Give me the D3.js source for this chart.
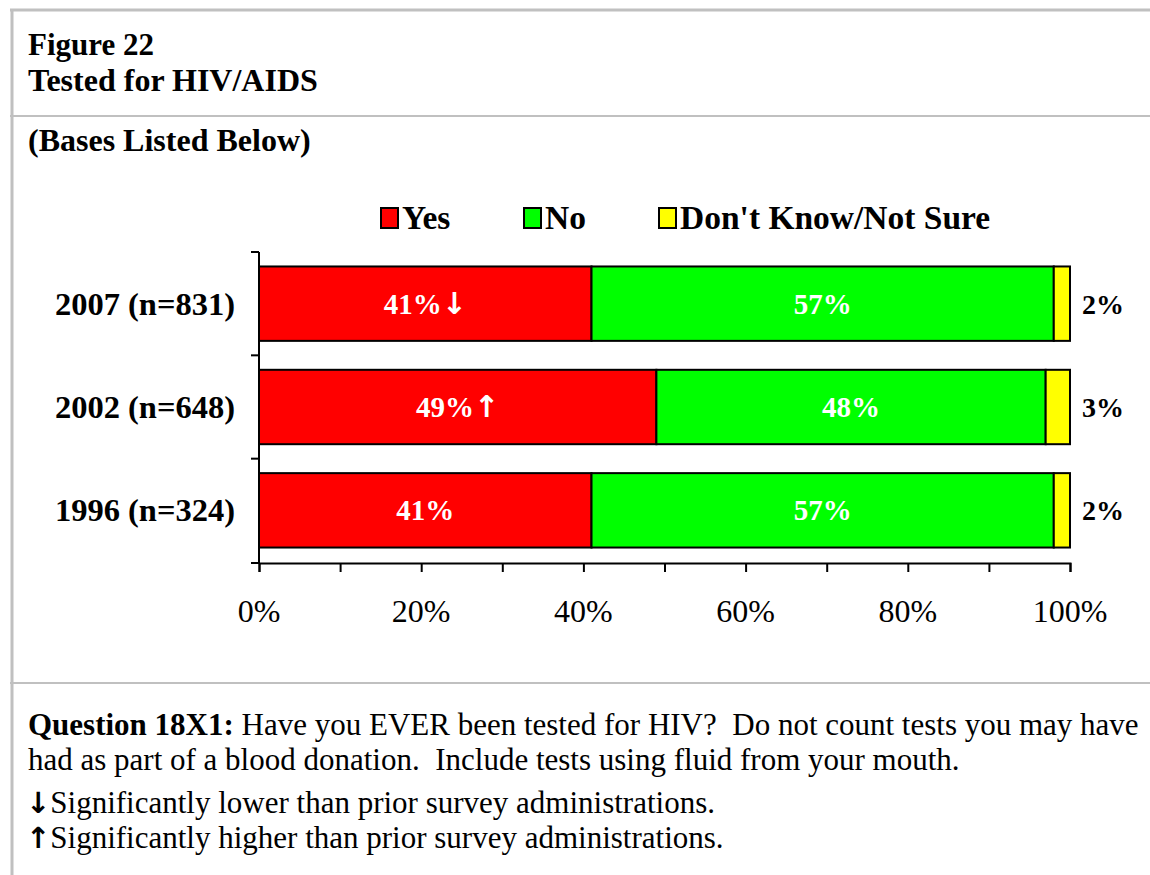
<!DOCTYPE html>
<html>
<head>
<meta charset="utf-8">
<script src="https://cdn.jsdelivr.net/npm/d3@7"></script>
<style>
  body { margin: 0; background: #fff; }
  svg { display: block; font-family: "Liberation Serif", "DejaVu Serif", serif; }
  .arrow { font-family: "DejaVu Sans", sans-serif; font-weight: bold; }
</style>
</head>
<body>
<div id="chart"></div>
<script>
const years = ['2007 (n=831)', '2002 (n=648)', '1996 (n=324)'];
const seriesNames = ['Yes', 'No', "Don't Know/Not Sure"];
const yesVals = [41, 49, 41];
const noVals = [57, 48, 57];
const dkVals = [2, 3, 2];
const yesMarks = ['\u2193', '\u2191', ''];
const xTicks = [0, 20, 40, 60, 80, 100];
const colors = ['#ff0000', '#00ff00', '#ffff00'];

const W = 1150, H = 875;
const svg = d3.select('#chart').append('svg').attr('width', W).attr('height', H);

// frame lines
const frame = '#c0c0c0';
svg.append('line').attr('x1', 10).attr('x2', W).attr('y1', 10).attr('y2', 10).attr('stroke', frame).attr('stroke-width', 3);
svg.append('line').attr('x1', 12).attr('x2', 12).attr('y1', 10).attr('y2', H).attr('stroke', frame).attr('stroke-width', 3);
svg.append('line').attr('x1', 10).attr('x2', W).attr('y1', 116).attr('y2', 116).attr('stroke', frame).attr('stroke-width', 2);
svg.append('line').attr('x1', 10).attr('x2', W).attr('y1', 683).attr('y2', 683).attr('stroke', frame).attr('stroke-width', 2);

// titles
svg.append('text').attr('x', 28).attr('y', 55).attr('font-size', 31).attr('font-weight', 'bold').text('Figure 22');
svg.append('text').attr('x', 28).attr('y', 91).attr('font-size', 32).attr('font-weight', 'bold').text('Tested for HIV/AIDS');
svg.append('text').attr('x', 28).attr('y', 151).attr('font-size', 32).attr('font-weight', 'bold').text('(Bases Listed Below)');

// plot
const x = d3.scaleLinear().domain([0, 100]).range([259, 1070]);
const y = d3.scaleBand().domain(years).range([252, 562]).paddingInner(0.28).paddingOuter(0.14);

const rows = years.map((yr, i) => {
  const vals = [yesVals[i], noVals[i], dkVals[i]];
  let acc = 0;
  return vals.map((v, j) => {
    const seg = {year: yr, series: j, x0: acc, x1: acc + v, v: v, mark: j === 0 ? yesMarks[i] : ''};
    acc += v;
    return seg;
  });
}).flat();

svg.selectAll('rect.bar').data(rows).join('rect')
  .attr('class', 'bar')
  .attr('x', d => x(d.x0))
  .attr('width', d => x(d.x1) - x(d.x0))
  .attr('y', d => y(d.year))
  .attr('height', y.bandwidth())
  .attr('fill', d => colors[d.series])
  .attr('stroke', '#000')
  .attr('stroke-width', 2);

// value labels
const vals = svg.selectAll('text.val').data(rows).join('text')
  .attr('class', 'val')
  .attr('x', d => d.series === 2 ? x(100) + 12 : (x(d.x0) + x(d.x1)) / 2)
  .attr('y', d => y(d.year) + y.bandwidth() / 2 + 10)
  .attr('text-anchor', d => d.series === 2 ? 'start' : 'middle')
  .attr('font-size', d => d.series === 2 ? 28 : 29)
  .attr('font-weight', 'bold')
  .attr('fill', d => d.series === 2 ? '#000' : '#fff');
vals.append('tspan').text(d => d.v + '%');
vals.append('tspan').attr('class', 'arrow').attr('font-size', 30).text(d => d.mark);

// y axis
const yAxis = svg.append('g').attr('transform', 'translate(259,0)');
yAxis.append('line').attr('x1', 0).attr('x2', 0).attr('y1', 252).attr('y2', 563).attr('stroke', '#000').attr('stroke-width', 2);
const yTickPos = [252].concat(years.map(yr => y(yr) + y.bandwidth() + y.step() * y.paddingInner() / 2));
yTickPos[yTickPos.length - 1] = 563;
yAxis.selectAll('line.t').data(yTickPos).join('line')
  .attr('class', 't').attr('x1', -8).attr('x2', 0).attr('y1', d => d).attr('y2', d => d)
  .attr('stroke', '#000').attr('stroke-width', 2);

svg.selectAll('text.cat').data(years).join('text')
  .attr('class', 'cat')
  .attr('x', 235)
  .attr('y', d => y(d) + y.bandwidth() / 2 + 11)
  .attr('text-anchor', 'end')
  .attr('font-size', 32.5)
  .attr('font-weight', 'bold')
  .text(d => d);

// x axis
const xAxis = svg.append('g').attr('transform', 'translate(0,563)')
  .call(d3.axisBottom(x).ticks(10).tickSize(9).tickFormat(''));
xAxis.select('.domain').attr('stroke-width', 2);
xAxis.selectAll('.tick line').attr('stroke-width', 2);

svg.selectAll('text.xt').data(xTicks).join('text')
  .attr('class', 'xt')
  .attr('x', d => x(d))
  .attr('y', 622)
  .attr('text-anchor', 'middle')
  .attr('font-size', 32)
  .text(d => d + '%');

// legend
const legX = [381, 524, 659];
const leg = svg.append('g');
seriesNames.forEach((s, i) => {
  leg.append('rect').attr('x', legX[i]).attr('y', 208).attr('width', 17).attr('height', 20)
    .attr('fill', colors[i]).attr('stroke', '#000').attr('stroke-width', 2);
  leg.append('text').attr('x', legX[i] + 21).attr('y', 229).attr('font-size', 33.5).attr('font-weight', 'bold').text(s);
});

// footer
const foot = svg.append('g').attr('font-size', 31);
const q = foot.append('text').attr('x', 28).attr('y', 735);
q.append('tspan').attr('font-weight', 'bold').text('Question 18X1:');
q.append('tspan').text(' Have you EVER been tested for HIV?\u00a0 Do not count tests you may have');
foot.append('text').attr('x', 28).attr('y', 770).text('had as part of a blood donation.\u00a0 Include tests using fluid from your mouth.');
const l3 = foot.append('text').attr('x', 26).attr('y', 813);
l3.append('tspan').attr('class', 'arrow').attr('font-size', 29).text('\u2193');
l3.append('tspan').text('Significantly lower than prior survey administrations.');
const l4 = foot.append('text').attr('x', 26).attr('y', 848);
l4.append('tspan').attr('class', 'arrow').attr('font-size', 29).text('\u2191');
l4.append('tspan').text('Significantly higher than prior survey administrations.');
</script>
</body>
</html>
